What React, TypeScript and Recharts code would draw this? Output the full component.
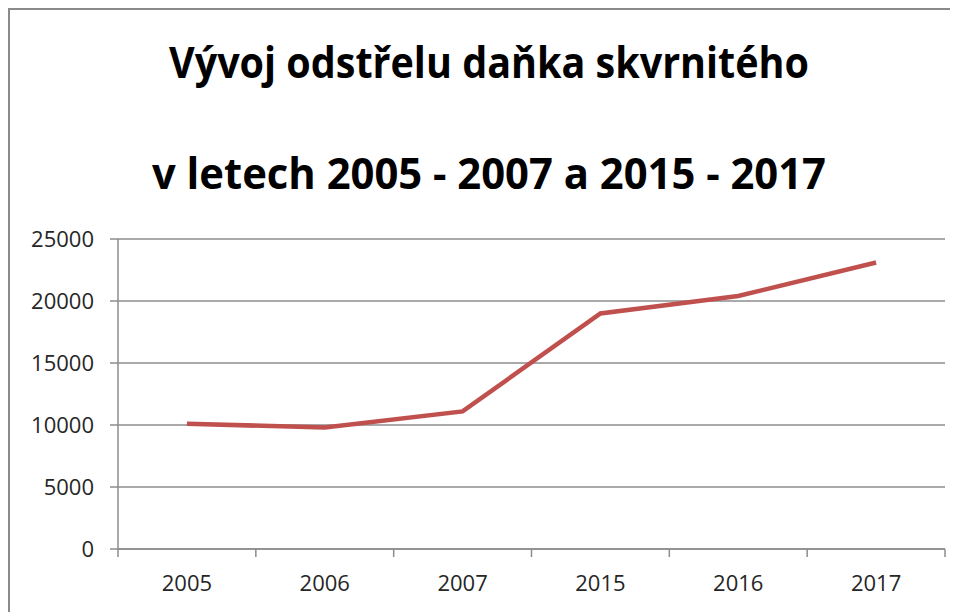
import React from "react";
import { LineChart, Line, XAxis, YAxis, CartesianGrid } from "recharts";

const years = ["2005", "2006", "2007", "2015", "2016", "2017"];
const culls = [10100, 9800, 11100, 19000, 20400, 23100];
const yTicks = [0, 5000, 10000, 15000, 20000, 25000];
const titleLines = ["Vývoj odstřelu daňka skvrnitého", "v letech 2005 - 2007 a 2015 - 2017"];

const data = years.map((y, i) => ({ year: y, value: culls[i] }));

const W = 948;
const H = 602;
const M = { top: 229, right: 13, left: 0, bottom: 0 };
const YW = 108;
const PLOT_W = W - M.left - M.right - YW;
const BAND = PLOT_W / years.length;
const GRID = "#8c8c8c";
const TXT = "#262626";
const FONT = "'Open Sans', sans-serif";

const XTick = (props: any) => {
  const { x, y, payload, index } = props;
  const left = x - BAND / 2;
  return (
    <g>
      <line x1={left} y1={y} x2={left} y2={y + 8} stroke={GRID} strokeWidth={1.5} />
      {index === years.length - 1 && (
        <line x1={x + BAND / 2} y1={y} x2={x + BAND / 2} y2={y + 8} stroke={GRID} strokeWidth={1.5} />
      )}
      <text x={x} y={y + 42} textAnchor="middle" fill={TXT} fontSize={22} fontFamily={FONT}>
        {payload.value}
      </text>
    </g>
  );
};

export default function App() {
  return (
    <div
      style={{
        position: "relative",
        width: 950,
        height: 604,
        borderTop: "2px solid #8a8a8a",
        borderLeft: "2px solid #8a8a8a",
        boxSizing: "border-box",
        background: "#fff",
      }}
    >
      <svg
        width={W}
        height={220}
        style={{ position: "absolute", left: 0, top: 0, pointerEvents: "none" }}
      >
        <text
          x={479}
          y={68}
          textAnchor="middle"
          fontFamily={FONT}
          fontWeight={700}
          fontSize={43}
          fill="#000"
          textLength={640}
          lengthAdjust="spacingAndGlyphs"
        >
          {titleLines[0]}
        </text>
        <text
          x={479}
          y={179}
          textAnchor="middle"
          fontFamily={FONT}
          fontWeight={700}
          fontSize={43}
          fill="#000"
          textLength={674}
          lengthAdjust="spacingAndGlyphs"
        >
          {titleLines[1]}
        </text>
      </svg>
      <LineChart width={W} height={H} data={data} margin={M}>
        <CartesianGrid vertical={false} stroke={GRID} strokeWidth={1.5} />
        <XAxis
          dataKey="year"
          stroke={GRID}
          strokeWidth={1.5}
          tickLine={false}
          tickSize={0}
          tickMargin={0}
          height={63}
          tick={<XTick />}
          interval={0}
          padding={{ left: BAND / 2, right: BAND / 2 }}
        />
        <YAxis
          domain={[0, 25000]}
          ticks={yTicks}
          width={YW}
          stroke={GRID}
          strokeWidth={1.5}
          tickSize={8}
          tickMargin={16}
          tick={{ fill: TXT, fontSize: 22, fontFamily: FONT }}
          interval={0}
        />
        <Line
          type="linear"
          dataKey="value"
          stroke="#C0504D"
          strokeWidth={4.5}
          dot={false}
          isAnimationActive={false}
        />
      </LineChart>
    </div>
  );
}
